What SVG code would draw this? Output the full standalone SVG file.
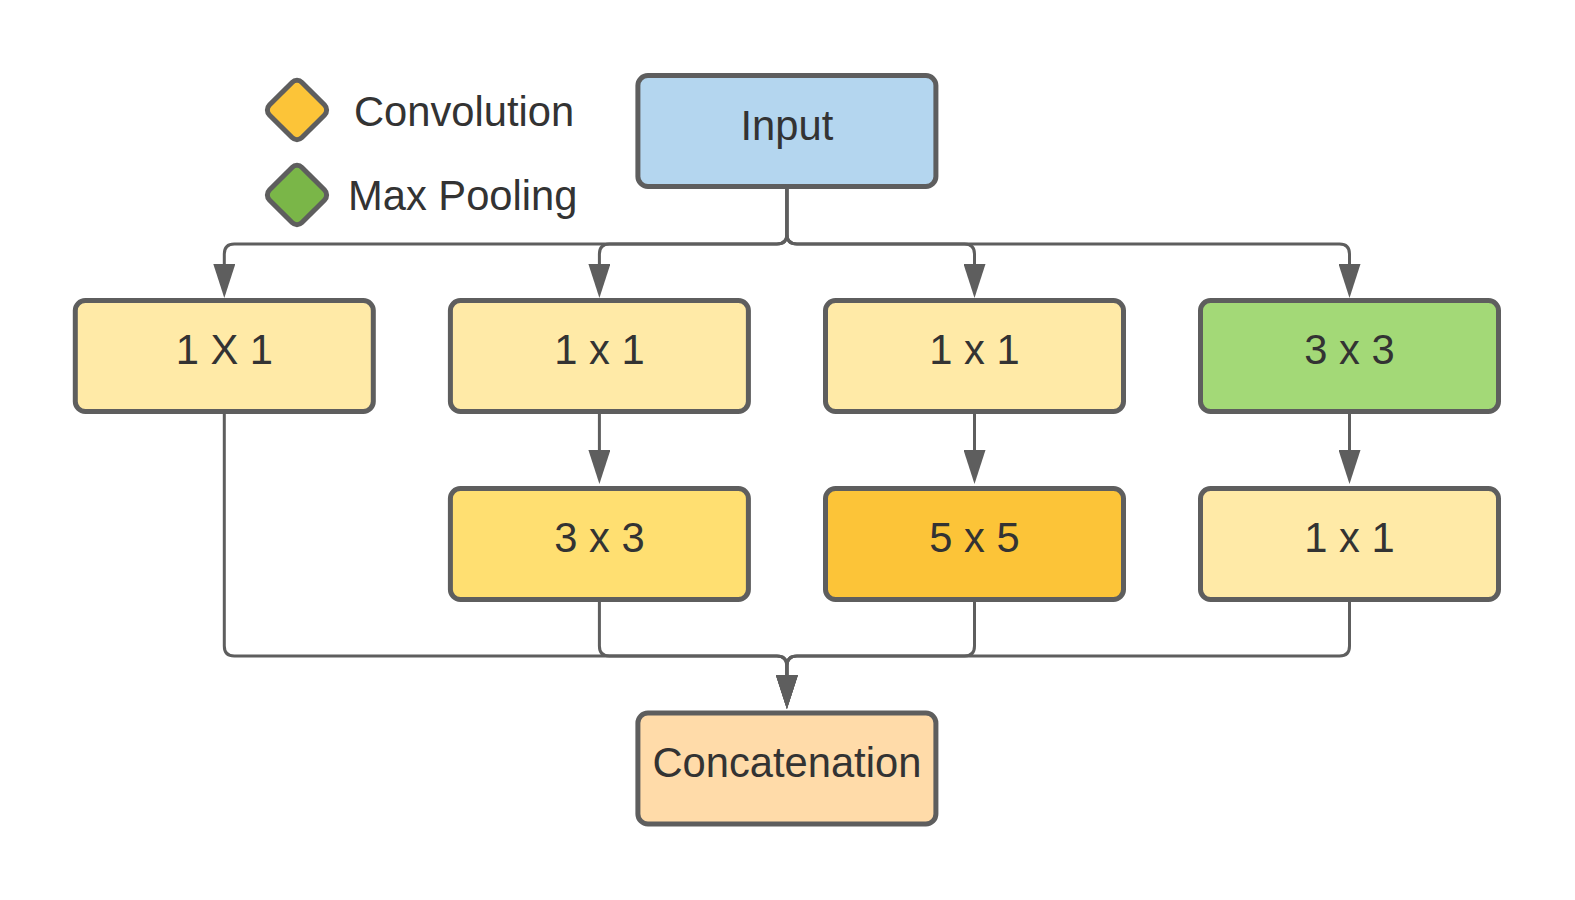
<svg xmlns="http://www.w3.org/2000/svg" width="1575" height="900" viewBox="0 0 1575 900">
<style>
.node rect{stroke:#5e5e5e;stroke-width:5}
.lbl{font-family:"Liberation Sans",Arial,sans-serif;font-size:41.7px;fill:#333333;text-anchor:middle}
.leg{font-family:"Liberation Sans",Arial,sans-serif;font-size:41.7px;fill:#333333}
.conn path{fill:none;stroke:#5e5e5e;stroke-width:3;marker-end:url(#arr)}
</style>
<defs>
<marker id="arr" viewBox="0 0 34 22" markerWidth="34" markerHeight="22" refX="24" refY="11" orient="auto" markerUnits="userSpaceOnUse">
<path d="M0 0 L34 11 L0 22 Z" fill="#5e5e5e"/>
</marker>
</defs>
<rect width="1575" height="900" fill="#ffffff"/>
<g id="legend">
<g id="legend-conv">
<rect x="-23" y="-23" width="46" height="46" rx="7" transform="translate(297 110) rotate(45)" fill="#fcc438" stroke="#5e5e5e" stroke-width="5"/>
<text class="leg" x="354" y="126">Convolution</text>
</g>
<g id="legend-pool">
<rect x="-23" y="-23" width="46" height="46" rx="7" transform="translate(297 195) rotate(45)" fill="#7ab648" stroke="#5e5e5e" stroke-width="5"/>
<text class="leg" x="348" y="210">Max Pooling</text>
</g>
</g>
<g id="connectors" class="conn">
<path d="M786.9 188 V234 Q786.9 244 776.9 244 H234.3 Q224.3 244 224.3 254 V288"/>
<path d="M786.9 188 V234 Q786.9 244 776.9 244 H609.4 Q599.4 244 599.4 254 V288"/>
<path d="M786.9 188 V234 Q786.9 244 796.9 244 H964.5 Q974.5 244 974.5 254 V288"/>
<path d="M786.9 188 V234 Q786.9 244 796.9 244 H1339.5 Q1349.5 244 1349.5 254 V288"/>
<path d="M599.4 414 V474"/>
<path d="M974.5 414 V474"/>
<path d="M1349.5 414 V474"/>
<path d="M224.3 414 V646 Q224.3 656 234.3 656 H776.9 Q786.9 656 786.9 666 V699"/>
<path d="M599.4 602 V646 Q599.4 656 609.4 656 H776.9 Q786.9 656 786.9 666 V699"/>
<path d="M974.5 602 V646 Q974.5 656 964.5 656 H796.9 Q786.9 656 786.9 666 V699"/>
<path d="M1349.5 602 V646 Q1349.5 656 1339.5 656 H796.9 Q786.9 656 786.9 666 V699"/>
</g>
<g id="input" class="node"><rect x="637.9" y="75.5" width="298" height="111" rx="10" fill="#b4d6ef"/><text class="lbl" x="786.9" y="140">Input</text></g>
<g id="b1" class="node"><rect x="75.3" y="300.5" width="298" height="111" rx="10" fill="#ffeaa7"/><text class="lbl" x="224.3" y="364">1 X 1</text></g>
<g id="b2" class="node"><rect x="450.4" y="300.5" width="298" height="111" rx="10" fill="#ffeaa7"/><text class="lbl" x="599.4" y="364">1 x 1</text></g>
<g id="b3" class="node"><rect x="825.5" y="300.5" width="298" height="111" rx="10" fill="#ffeaa7"/><text class="lbl" x="974.5" y="364">1 x 1</text></g>
<g id="b4" class="node"><rect x="1200.5" y="300.5" width="298" height="111" rx="10" fill="#a3d977"/><text class="lbl" x="1349.5" y="364">3 x 3</text></g>
<g id="c2" class="node"><rect x="450.4" y="488.5" width="298" height="111" rx="10" fill="#ffdf71"/><text class="lbl" x="599.4" y="552">3 x 3</text></g>
<g id="c3" class="node"><rect x="825.5" y="488.5" width="298" height="111" rx="10" fill="#fcc438"/><text class="lbl" x="974.5" y="552">5 x 5</text></g>
<g id="c4" class="node"><rect x="1200.5" y="488.5" width="298" height="111" rx="10" fill="#ffeaa7"/><text class="lbl" x="1349.5" y="552">1 x 1</text></g>
<g id="concat" class="node"><rect x="637.9" y="713" width="298" height="111" rx="10" fill="#ffdba9"/><text class="lbl" x="786.9" y="777">Concatenation</text></g>
</svg>
